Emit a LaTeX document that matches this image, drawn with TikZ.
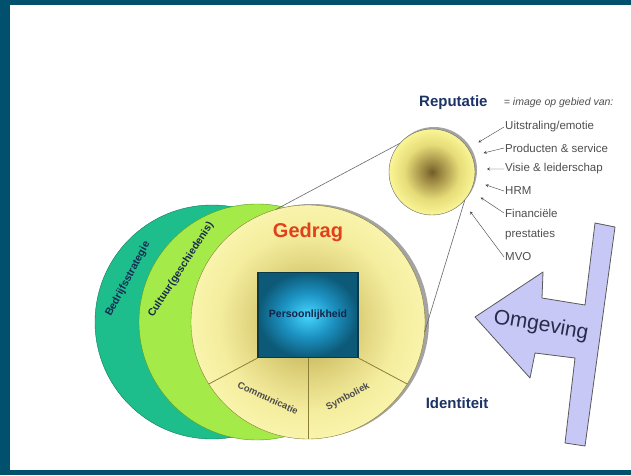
\documentclass[tikz,border=0pt]{standalone}
\usepackage{fontspec}
\setmainfont{Liberation Sans}
\usetikzlibrary{shapes.geometric,arrows,shadows,positioning}
\definecolor{framec}{HTML}{01506E}
\definecolor{dkgreen}{HTML}{1DBE8C}
\definecolor{dkgreenline}{HTML}{127A5C}
\definecolor{ltgreen}{HTML}{A4EA48}
\definecolor{ltgreenline}{HTML}{5E9A24}
\definecolor{yelA}{HTML}{B3A345}
\definecolor{yelB}{HTML}{DDD07A}
\definecolor{yelC}{HTML}{F4ED9E}
\definecolor{yelD}{HTML}{F9F4AC}
\definecolor{yelline}{HTML}{8C7E36}
\definecolor{repA}{HTML}{6E5E28}
\definecolor{repB}{HTML}{947F3C}
\definecolor{repC}{HTML}{E6DC78}
\definecolor{repD}{HTML}{FAF596}
\definecolor{blueA}{HTML}{46D6FF}
\definecolor{blueB}{HTML}{1C92C2}
\definecolor{blueC}{HTML}{0D5A78}
\definecolor{sqline}{HTML}{0A3A4A}
\definecolor{navy}{HTML}{1C3366}
\definecolor{gedragred}{HTML}{E0401C}
\definecolor{itemgrey}{HTML}{4E4E4E}
\definecolor{lavender}{HTML}{C8C8F6}
\definecolor{omgtext}{HTML}{2A2A4C}
\pgfdeclareradialshading{yelshade}{\pgfpoint{0bp}{0bp}}{color(0bp)=(yelA); color(11bp)=(yelB); color(19bp)=(yelC); color(25bp)=(yelD); color(50bp)=(yelD)}
\pgfdeclareradialshading{repshade}{\pgfpoint{0bp}{0bp}}{color(0bp)=(repA); color(4bp)=(repB); color(16bp)=(repC); color(25bp)=(repD); color(50bp)=(repD)}
\pgfdeclareradialshading{blueshade}{\pgfpoint{0bp}{0bp}}{color(0bp)=(blueA); color(13bp)=(blueB); color(25bp)=(blueC); color(50bp)=(blueC)}
\tikzstyle{ring} = [circle, inner sep=0pt, outer sep=0pt, minimum size=234pt]
\tikzstyle{bandtext} = [font=\bfseries\fontsize{10.5}{12}\selectfont, text=navy!80!black]
\tikzstyle{item} = [anchor=west, inner sep=1pt, text=itemgrey, font=\fontsize{11.5}{13}\selectfont]
\tikzstyle{arrow} = [->, >=stealth, draw=black!75, shorten >=12pt]
\tikzstyle{divider} = [draw=yelline, line width=0.8pt]
\tikzstyle{tangent} = [draw=black!60, line width=0.6pt]

\begin{document}
\begin{tikzpicture}[x=1pt, y=1pt]
\fill[framec] (0,0) rectangle (631,475);
\fill[white] (10,5) rectangle (631,470);
\useasboundingbox (0,0) rectangle (631,475);

\node(strategie) [ring, fill=dkgreen, draw=dkgreenline] at (212,153) {};
\node(cultuur) [ring, minimum size=236pt, fill=ltgreen, draw=ltgreenline] at (257,153) {};
\node(gedrag) [ring, shade, shading=yelshade, draw=yelline,
     drop shadow={shadow xshift=4pt, shadow yshift=1pt, fill=black!45, opacity=0.8}] at (308,153) {};
\node(persoon) [rectangle, minimum width=100pt, minimum height=85pt, shade, shading=blueshade,
     draw=sqline, line width=1.2pt, text=navy!70!black, font=\bfseries\fontsize{10.5}{12}\selectfont] at (308,160) {Persoonlijkheid};

\draw [divider] (persoon.south west) -- (gedrag.212);
\draw [divider] (persoon.south) -- (gedrag.south);
\draw [divider] (persoon.south east) -- (gedrag.-32);

\node(gedragtxt) [font=\bfseries\fontsize{20}{24}\selectfont, text=gedragred] at (308,243) {Gedrag};
\node(comm) [bandtext, font=\bfseries\fontsize{9.5}{11}\selectfont, text=black!70, rotate=-25] at (268,77) {Communicatie};
\node(symb) [bandtext, font=\bfseries\fontsize{9.5}{11}\selectfont, text=black!70, rotate=28] at (348,78) {Symboliek};
\node(bedrijf) [bandtext, inner sep=1pt, rotate=62] at (128,196) {Bedrijfsstrategie};
\node(cultuurtxt) [bandtext, inner sep=1pt, rotate=57] at (181,205) {Cultuur(geschiedenis)};

\node(reputatie) [circle, minimum size=86pt, inner sep=0pt, outer sep=0pt, shade, shading=repshade, draw=black!60,
     drop shadow={shadow xshift=2pt, shadow yshift=2pt, fill=black!45, opacity=0.8}] at (432,303) {};
\draw [tangent] (gedrag.106) -- (reputatie.138);
\draw [tangent] (reputatie.-40) -- (gedrag.-5);

\node(reptitel) [anchor=west, inner sep=0pt, font=\bfseries\fontsize{15}{18}\selectfont, text=navy] at (419,372) {Reputatie};
\node(imago) [right=16pt of reptitel, inner sep=0pt, text=itemgrey, font=\itshape\fontsize{10.5}{12}\selectfont] {= image op gebied van:};

\node(uitstraling) [item] at (504,348) {Uitstraling/emotie};
\node(producten)   [item] at (504,327) {Producten \& service};
\node(visie)       [item] at (504,306) {Visie \& leiderschap};
\node(hrm)         [item] at (504,284) {HRM};
\node(financiele)  [item] at (504,262) {Financiële};
\node(prestaties)  [item] at (504,240) {prestaties};
\node(mvo)         [item] at (504,218) {MVO};

\draw [arrow] (uitstraling.west) -- (reputatie.33);
\draw [arrow] (producten.west) -- (reputatie.22);
\draw [arrow] (visie.west) -- (reputatie.4);
\draw [arrow] (hrm.west) -- (reputatie.-12);
\draw [arrow] (financiele.west) -- (reputatie.-26);
\draw [arrow] (mvo.west) -- (reputatie.-44);

\node(identiteit) [font=\bfseries\fontsize{15}{18}\selectfont, text=navy] at (457,72) {Identiteit};

\filldraw[fill=lavender, draw=black!65, line width=0.8pt, line join=round]
  (475,158) -- (543,203) -- (542,177) -- (585,170) -- (595,252) -- (615,248) -- (585,29)
  -- (565,32) -- (575,117) -- (535,122) -- (530,97) -- cycle;
\node(omgeving) [rotate=-10, font=\fontsize{21}{24}\selectfont, text=omgtext] at (541,149) {Omgeving};

\end{tikzpicture}
\end{document}
